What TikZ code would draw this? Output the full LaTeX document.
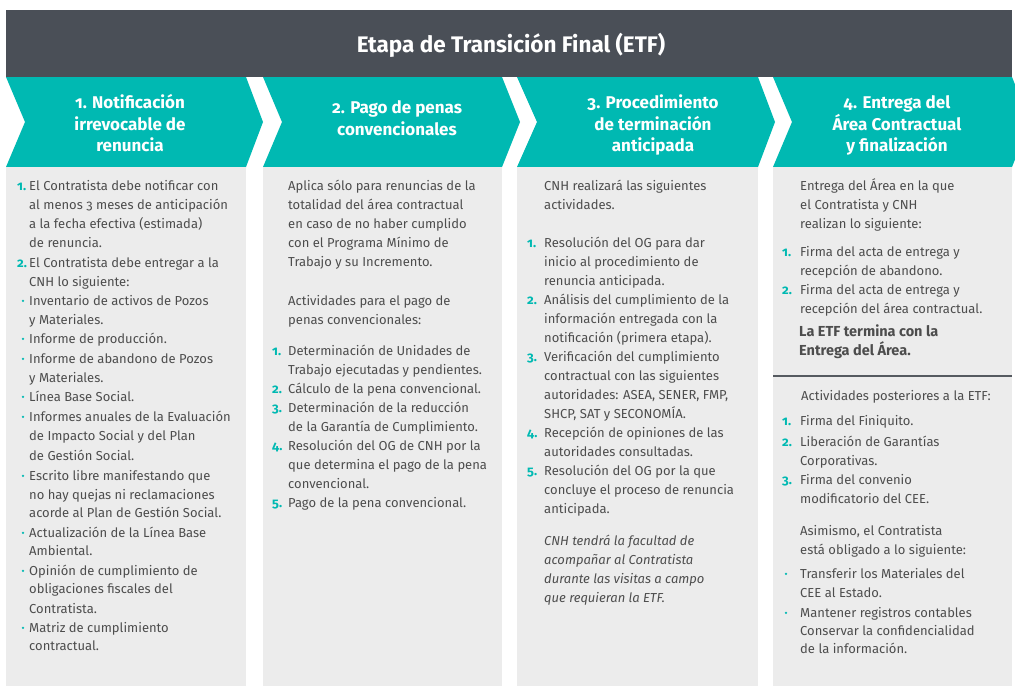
\documentclass[tikz,border=0pt]{standalone}
\usepackage{fontspec}
\setmainfont{Fira Sans}[Numbers=OldStyle]
\definecolor{hdr}{HTML}{4A4F57}
\definecolor{tealc}{HTML}{00B9B2}
\definecolor{panel}{HTML}{ECECEC}
\definecolor{txt}{HTML}{4D4D4D}
\definecolor{divl}{HTML}{555A60}
\newcounter{lno}
\newcommand\Bt[3]{\stepcounter{lno}\node[body] (b\arabic{lno}) at (#1,#2) {#3};}
\newcommand\Nm[3]{\stepcounter{lno}\node[num] (n\arabic{lno}) at (#1,#2) {#3.};}
\newcommand\Bu[2]{\stepcounter{lno}\node[bul] (u\arabic{lno}) at (#1,#2-4.2) {};}
\newcommand\Hd[3]{\stepcounter{lno}\node[head] (h\arabic{lno}) at (#1,#2) {#3};}
\tikzset{
  body/.style={anchor=base west, inner sep=0pt, text=txt, font=\fontsize{13}{16}\selectfont},
  num/.style={anchor=base west, inner sep=0pt, text=tealc, font=\bfseries\fontsize{13}{16}\selectfont},
  bul/.style={circle, fill=tealc, inner sep=0pt, minimum size=2.6pt},
  head/.style={anchor=base, inner sep=0pt, text=white, font=\bfseries\fontsize{17}{20}\selectfont},
  chev/.style={fill=tealc, draw=none},
  pan/.style={fill=panel, draw=none},
}
\begin{document}
\begin{tikzpicture}[x=1pt,y=-1pt]
\useasboundingbox (0,0) rectangle (1015,686);
\clip (0,0) rectangle (1015,686);
\fill[white] (0,0) rectangle (1015,686);
% header
\fill[hdr] (6,10) rectangle (1012,77);
\node[anchor=base, inner sep=0pt, text=white, font=\bfseries\fontsize{22.5}{26}\selectfont] (title) at (511,52) {Etapa de Transición Final (ETF)};
% chevrons
\fill[chev] (6,77) -- (246,77) -- (263,122) -- (246,167) -- (6,167) -- (25,122) -- cycle;
\fill[chev] (263,77) -- (502,77) -- (520,122) -- (502,167) -- (263,167) -- (282,122) -- cycle;
\fill[chev] (517,77) -- (758,77) -- (775,122) -- (758,167) -- (517,167) -- (537,122) -- cycle;
\fill[chev] (773,77) -- (1012,77) -- (1030,122) -- (1012,167) -- (773,167) -- (792,122) -- cycle;
% panels
\fill[pan] (6,167) rectangle (246,686);
\fill[pan] (263,167) rectangle (502,686);
\fill[pan] (517,167) rectangle (758,686);
\fill[pan] (773,167) rectangle (1012,686);
% headings
\Hd{130}{108}{1. Notificación}
\Hd{130}{130}{irrevocable de}
\Hd{130}{151}{renuncia}
\Hd{397}{113}{2. Pago de penas}
\Hd{397}{135}{convencionales}
\Hd{653}{108}{3. Procedimiento}
\Hd{653}{130}{de terminación}
\Hd{653}{151}{anticipada}
\Hd{897}{108}{4. Entrega del}
\Hd{897}{130}{Área Contractual}
\Hd{897}{151}{y finalización}
% column 1
\Nm{17}{190}{1}\Bt{29}{190}{El Contratista debe notificar con}
\Bt{29}{209}{al menos 3 meses de anticipación}
\Bt{29}{228}{a la fecha efectiva (estimada)}
\Bt{29}{247}{de renuncia.}
\Nm{17}{267}{2}\Bt{29}{267}{El Contratista debe entregar a la}
\Bt{29}{286}{CNH lo siguiente:}
\Bu{23}{305}\Bt{29}{305}{Inventario de activos de Pozos}
\Bt{29}{324}{y Materiales.}
\Bu{23}{343}\Bt{29}{343}{Informe de producción.}
\Bu{23}{363}\Bt{29}{363}{Informe de abandono de Pozos}
\Bt{29}{382}{y Materiales.}
\Bu{23}{401}\Bt{29}{401}{Línea Base Social.}
\Bu{23}{421}\Bt{29}{421}{Informes anuales de la Evaluación}
\Bt{29}{440}{de Impacto Social y del Plan}
\Bt{29}{460}{de Gestión Social.}
\Bu{23}{480}\Bt{29}{480}{Escrito libre manifestando que}
\Bt{29}{499}{no hay quejas ni reclamaciones}
\Bt{29}{517}{acorde al Plan de Gestión Social.}
\Bu{23}{537}\Bt{29}{537}{Actualización de la Línea Base}
\Bt{29}{555}{Ambiental.}
\Bu{23}{575}\Bt{29}{575}{Opinión de cumplimiento de}
\Bt{29}{593}{obligaciones fiscales del}
\Bt{29}{613}{Contratista.}
\Bu{23}{632}\Bt{29}{632}{Matriz de cumplimiento}
\Bt{29}{650}{contractual.}
% column 2
\Bt{288}{190}{Aplica sólo para renuncias de la}
\Bt{288}{209}{totalidad del área contractual}
\Bt{288}{228}{en caso de no haber cumplido}
\Bt{288}{247}{con el Programa Mínimo de}
\Bt{288}{266}{Trabajo y su Incremento.}
\Bt{288}{305}{Actividades para el pago de}
\Bt{288}{324}{penas convencionales:}
\Nm{272}{355}{1}\Bt{288}{355}{Determinación de Unidades de}
\Bt{288}{374}{Trabajo ejecutadas y pendientes.}
\Nm{272}{393}{2}\Bt{288}{393}{Cálculo de la pena convencional.}
\Nm{272}{412}{3}\Bt{288}{412}{Determinación de la reducción}
\Bt{288}{431}{de la Garantía de Cumplimiento.}
\Nm{272}{450}{4}\Bt{288}{450}{Resolución del OG de CNH por la}
\Bt{288}{469}{que determina el pago de la pena}
\Bt{288}{488}{convencional.}
\Nm{272}{507}{5}\Bt{288}{507}{Pago de la pena convencional.}
% column 3
\Bt{544}{190}{CNH realizará las siguientes}
\Bt{544}{209}{actividades.}
\Nm{527}{247}{1}\Bt{544}{247}{Resolución del OG para dar}
\Bt{544}{266}{inicio al procedimiento de}
\Bt{544}{285}{renuncia anticipada.}
\Nm{527}{304}{2}\Bt{544}{304}{Análisis del cumplimiento de la}
\Bt{544}{323}{información entregada con la}
\Bt{544}{342}{notificación (primera etapa).}
\Nm{527}{361}{3}\Bt{544}{361}{Verificación del cumplimiento}
\Bt{544}{380}{contractual con las siguientes}
\Bt{544}{399}{autoridades: ASEA, SENER, FMP,}
\Bt{544}{418}{SHCP, SAT y SECONOMÍA.}
\Nm{527}{437}{4}\Bt{544}{437}{Recepción de opiniones de las}
\Bt{544}{456}{autoridades consultadas.}
\Nm{527}{475}{5}\Bt{544}{475}{Resolución del OG por la que}
\Bt{544}{494}{concluye el proceso de renuncia}
\Bt{544}{513}{anticipada.}
\Bt{544}{545}{\itshape CNH tendrá la facultad de}
\Bt{544}{564}{\itshape acompañar al Contratista}
\Bt{544}{583}{\itshape durante las visitas a campo}
\Bt{544}{602}{\itshape que requieran la ETF.}
% column 4
\Bt{800}{190}{Entrega del Área en la que}
\Bt{800}{209}{el Contratista y CNH}
\Bt{800}{228}{realizan lo siguiente:}
\Nm{782}{256}{1}\Bt{800}{256}{Firma del acta de entrega y}
\Bt{800}{275}{recepción de abandono.}
\Nm{782}{294}{2}\Bt{800}{294}{Firma del acta de entrega y}
\Bt{800}{313}{recepción del área contractual.}
\Bt{799}{336}{\bfseries\fontsize{14.5}{17}\selectfont La ETF termina con la}
\Bt{799}{355}{\bfseries\fontsize{14.5}{17}\selectfont Entrega del Área.}
\draw[divl, line width=1.5pt] (773,376) -- (1012,376);
\Bt{801}{400}{Actividades posteriores a la ETF:}
\Nm{782}{425}{1}\Bt{800}{425}{Firma del Finiquito.}
\Nm{782}{446}{2}\Bt{800}{446}{Liberación de Garantías}
\Bt{800}{465}{Corporativas.}
\Nm{782}{484}{3}\Bt{800}{484}{Firma del convenio}
\Bt{800}{503}{modificatorio del CEE.}
\Bt{800}{535}{Asimismo, el Contratista}
\Bt{800}{554}{está obligado a lo siguiente:}
\Bu{786}{578}\Bt{800}{578}{Transferir los Materiales del}
\Bt{800}{597}{CEE al Estado.}
\Bu{786}{617}\Bt{800}{617}{Mantener registros contables}
\Bt{800}{635}{Conservar la confidencialidad}
\Bt{800}{653}{de la información.}
\end{tikzpicture}
\end{document}
